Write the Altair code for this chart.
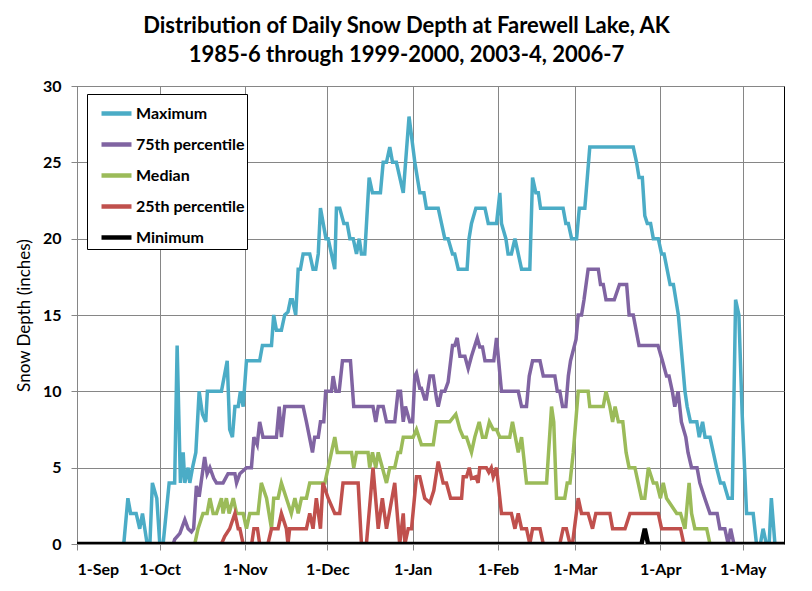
import altair as alt
import pandas as pd

SEASON_START = pd.Timestamp("2006-09-01")

# (day offset from 1-Sep, snow depth in inches)
MAXIMUM = [(0, 0), (17, 0), (18.5, 3), (19.5, 2), (21.5, 2), (22.8, 1), (23.8, 2), (25.5, 0), (26.5, 0),
           (27.4, 4), (29, 3), (30.1, 0), (31.3, 0), (33.5, 4), (35.5, 4), (36.4, 13), (37.6, 4), (38.6, 6),
           (39.2, 4), (40.4, 5), (41, 4), (42, 5), (43.2, 6), (44.4, 10), (45.6, 8.5), (46.8, 8), (47.4, 10),
           (52.5, 10), (54.6, 12), (55.5, 7.5), (56.5, 7), (57.4, 9), (58.6, 9), (59.4, 10), (60.4, 9),
           (61.6, 12), (66.4, 12), (67.4, 13), (70.7, 13), (71.5, 15), (72.5, 14), (74.3, 14), (75.5, 15),
           (76.7, 15.2), (77.6, 16), (78.3, 16), (79.5, 15), (80.4, 18), (81.2, 18), (82.2, 19), (84.6, 19),
           (85.8, 18), (86.8, 18), (87.7, 19), (88.5, 22), (90.5, 20), (91.3, 20), (93.7, 18), (94.3, 22),
           (95.5, 22), (97, 21), (98.2, 21), (99.2, 20), (100.4, 20), (101.6, 19), (102.6, 20), (103.4, 19),
           (104.6, 19), (106.2, 24), (107.4, 23), (110.3, 23), (111.3, 25), (112.5, 25), (113.7, 26),
           (114.7, 25), (116.1, 25), (118.6, 23), (120.7, 28), (122.8, 25), (124.6, 23), (126.1, 23),
           (127, 22), (131.3, 22), (132.5, 21), (133.7, 20), (134.9, 20), (136.5, 19), (137.3, 19),
           (138.6, 18), (141.8, 18), (142.5, 20), (143.4, 21), (145, 22), (148.3, 22), (149.5, 21),
           (152.5, 21), (153.7, 23), (154.3, 21), (155.9, 20), (156.7, 19), (157.9, 19), (159.2, 20),
           (160.4, 19), (161.6, 18), (164.6, 18), (165.6, 24), (166.8, 23), (167.7, 23), (168.5, 22),
           (176.7, 22), (177.7, 21), (178.6, 21), (179.8, 20), (181.6, 20), (182.6, 22), (184.6, 22),
           (186.4, 26), (202.2, 26), (203.4, 25), (204.3, 24), (205.5, 24), (206.4, 21.5), (207.3, 21),
           (208.5, 21), (209.5, 20), (211.3, 20), (212.5, 19), (213.4, 19), (215.6, 17), (216.8, 17),
           (218.6, 15), (221, 10), (221.8, 9), (223, 8), (225.3, 8), (226.2, 7), (227.4, 8), (228.3, 7),
           (230.1, 7), (232.5, 5), (233.9, 4), (235.1, 4), (236.7, 3), (238.2, 3), (239.4, 16), (240.6, 15),
           (241.8, 8.5), (243.4, 2), (245.8, 2), (247, 0), (248.4, 0), (249.4, 1), (250.6, 0), (251.6, 0),
           (252.4, 3), (253.7, 0), (257, 0)]

PCT75 = [(0, 0), (35, 0), (35.5, 0.3), (37.4, 0.7), (39.2, 1.6), (40.4, 1), (41.6, 0.8), (42.4, 1),
         (43.4, 3.8), (44.4, 3.1), (46.4, 5.7), (47.3, 4.6), (48.3, 5), (49.7, 4.3), (50.7, 4), (53.1, 4),
         (54.9, 4.6), (57.4, 4.6), (58, 4), (59.2, 4.6), (61.6, 5), (63.4, 5), (64.3, 7), (65.5, 6.5),
         (66.4, 8), (67.6, 7), (72.5, 7), (73.5, 9), (74.3, 7), (75.5, 9), (82.2, 9), (83.4, 8), (85.6, 6),
         (86.4, 7), (87.7, 7), (88.5, 8), (89.7, 8), (90.4, 10), (92.5, 10), (93.1, 11), (94.1, 10),
         (95.3, 10), (96.5, 12), (99.4, 12), (100.6, 9), (107.6, 9), (108.6, 8), (109.5, 9), (111.3, 9),
         (112.5, 8), (115.5, 8), (116.7, 10), (117.6, 10), (118.6, 8), (119.4, 9), (121, 8), (122, 8),
         (122.8, 11), (123.4, 11.2), (124.6, 10.2), (125.2, 10.2), (126.4, 9.5), (127, 9.5), (128.3, 11),
         (129.5, 11), (130.7, 9.5), (131.3, 9), (132.5, 10), (133.7, 10), (134.9, 10.6), (136.5, 13),
         (137.3, 13), (138.2, 13.5), (139.2, 12.3), (141, 12.3), (142.2, 11.5), (143.4, 12.3), (145.5, 13.5),
         (146.4, 12.9), (147.4, 12.9), (148.3, 12), (151.5, 12), (152.5, 13.5), (154.3, 10), (160.4, 10),
         (161.6, 9), (163.4, 9), (164.4, 11), (165.6, 12), (168.3, 12), (169.5, 11), (173.7, 11), (174.6, 10),
         (175.5, 10), (176.5, 9), (177.7, 9), (178.6, 11), (179.4, 12), (181.4, 13.4), (182.2, 15),
         (183.4, 15), (184.3, 16), (185.8, 18), (189.5, 18), (190.3, 17), (191.3, 17), (192.3, 16),
         (195.3, 16), (197.2, 17), (199.8, 17), (200.7, 15), (202.2, 15), (204.3, 13), (211.2, 13),
         (212.8, 12), (214.3, 11), (215.2, 11), (216.4, 10), (217.3, 9), (218.5, 10), (219.7, 8), (221.3, 7),
         (222.1, 6), (223.4, 5), (225.4, 5), (226.4, 4), (228.2, 3), (230.1, 2), (232.7, 2), (233.7, 1),
         (235.5, 1), (236.7, 0), (237.6, 1), (238.8, 0), (257, 0)]

MEDIAN = [(0, 0), (42.8, 0), (44, 1), (45.8, 2), (47.3, 2), (48.3, 3), (49.5, 2), (50.7, 2), (52.5, 3),
          (53.1, 2), (54.3, 3), (55.3, 2), (56.8, 3), (58, 2), (60.4, 2), (61.6, 1), (62.8, 2), (65.8, 2),
          (67, 4), (68.9, 3), (70.7, 1), (71.5, 3), (73.1, 3), (74.3, 4), (76.1, 3), (77.9, 2), (79.2, 3),
          (80.4, 2), (81.6, 3), (83.4, 3), (84.6, 4), (90.1, 4), (92.5, 6), (93.7, 7), (94.6, 6), (99.8, 6),
          (100.6, 5), (101.6, 6), (105.8, 6), (106.4, 5), (107.4, 6), (108.6, 5), (109.5, 6), (112.5, 4),
          (113.7, 5), (115.5, 5), (116.7, 6), (117.6, 6), (118.6, 7), (122.2, 7), (123.4, 7.5), (125.2, 6.5),
          (129.5, 6.5), (130.7, 8), (135.5, 8), (137.7, 8.5), (139.2, 7.5), (140.4, 7), (141.6, 7), (143.4, 6),
          (144.6, 7), (146.2, 8), (147.4, 7), (148.6, 7), (149.9, 8), (151.3, 7.5), (152.5, 7.5), (153.7, 7),
          (157.3, 7), (158.3, 8), (160.4, 6), (161.6, 7), (163.4, 4), (170.7, 4), (172.5, 9), (173.3, 8),
          (174.3, 3), (177.3, 3), (178.2, 4), (179.2, 4), (180.4, 6), (182.2, 10), (185.8, 10), (186.4, 9),
          (191.3, 9), (192.3, 10), (193.7, 9), (194.7, 8), (195.6, 9), (196.8, 8), (198.4, 8), (199.6, 6),
          (200.7, 5), (202.8, 5), (205.2, 3), (206.4, 3), (207.7, 5), (209.5, 4), (210.7, 4), (212.1, 3),
          (213.1, 4), (214.3, 3), (218, 2), (219.4, 2), (221, 1), (222.5, 4), (223.4, 2), (224.6, 1),
          (228.9, 1), (230.1, 0), (257, 0)]

PCT25 = [(0, 0), (52.5, 0), (53.7, 0.5), (55.5, 1), (57.4, 2), (58.6, 1), (59.2, 1), (60.4, 0), (63.5, 0),
         (64.3, 1), (65.6, 1), (66.4, 0), (69.4, 0), (70.7, 1), (73.1, 1), (74.3, 2), (76.1, 1), (76.7, 0),
         (77.3, 1), (83.4, 1), (84.6, 2), (85.8, 1), (87, 3), (88.5, 1), (89.4, 4), (91.3, 3), (93.7, 2),
         (95.5, 2), (96.7, 4), (102.2, 4), (103.4, 0), (105.2, 0), (107.6, 5), (109.5, 1), (111, 3),
         (112.5, 1), (115.5, 4), (117.3, 0), (118.6, 2), (119.2, 0), (120.4, 1), (121.6, 1), (123.4, 4.4),
         (124.6, 4.4), (126.4, 3), (128.3, 2.7), (129.7, 3.5), (131.3, 5.4), (133.1, 4), (134.3, 4),
         (135.8, 3), (139.8, 3), (140.4, 4.4), (141.6, 4.4), (142.6, 5), (143.4, 4.3), (145, 4.4), (145.8, 4),
         (146.4, 5), (148.8, 5), (149.7, 4.7), (150.6, 5), (151.3, 4.4), (152.5, 5), (154.3, 2), (157.9, 2),
         (159.2, 1), (160.4, 2), (161.6, 1), (163.4, 1), (164.6, 0), (165.6, 1), (168.3, 1), (169.5, 0),
         (175.5, 0), (176.7, 1), (177.9, 1), (179.2, 0), (180.1, 0), (182.2, 3), (183.4, 2), (185.8, 2),
         (187.4, 1), (188.6, 2), (193.7, 2), (194.7, 1), (199.2, 1), (201, 2), (211.3, 2), (212.5, 1),
         (219.4, 1), (220.6, 0), (257, 0)]

MINIMUM = [(0, 0), (205.2, 0), (206.4, 1), (207.6, 0), (257, 0)]

SERIES_NAMES = ["Maximum", "75th percentile", "Median", "25th percentile", "Minimum"]
SERIES_COLORS = ["#4BACC6", "#8064A2", "#9BBB59", "#C0504D", "#000000"]
SERIES_WIDTHS = [3.5, 3.5, 3.5, 3.5, 4.5]
SERIES_DATA = [MAXIMUM, PCT75, MEDIAN, PCT25, MINIMUM]

MONTH_TICKS = [(2006, 9), (2006, 10), (2006, 11), (2006, 12), (2007, 1), (2007, 2), (2007, 3), (2007, 4), (2007, 5)]

TITLE = ["Distribution of Daily Snow Depth at Farewell Lake, AK",
         "1985-6 through 1999-2000, 2003-4, 2006-7"]

rows = []
for name, pts in zip(SERIES_NAMES, SERIES_DATA):
    for d, v in pts:
        ts = SEASON_START + pd.Timedelta(days=d)
        rows.append({"series": name, "date": ts.strftime("%Y-%m-%dT%H:%M:%S"), "depth": v})
df = pd.DataFrame(rows)

FONT = "Lato"

x_axis = alt.Axis(
    values=[alt.DateTime(year=y, month=m, date=1) for y, m in MONTH_TICKS],
    format="%-d-%b", title=None, grid=True, gridColor="#868686", gridWidth=1,
    domain=False, ticks=True, tickColor="#868686", tickSize=6,
    labelFont=FONT, labelFontSize=16, labelFontWeight="bold", labelColor="black",
    labelPadding=11, labelOverlap=False,
)
y_axis = alt.Axis(
    values=[0, 5, 10, 15, 20, 25, 30], title="Snow Depth (inches)",
    grid=True, gridColor="#868686", gridWidth=1,
    domain=True, domainColor="#868686", tickColor="#868686", tickSize=6,
    labelFont=FONT, labelFontSize=16, labelFontWeight="bold", labelColor="black", labelPadding=10,
    titleFont=FONT, titleFontSize=17, titleFontWeight="normal", titleColor="black",
    titleAngle=270, titleX=-53, titleY=229, titleAlign="center", titleBaseline="middle",
)
legend = alt.Legend(
    orient="none", legendX=10, legendY=8, title=None,
    symbolType="stroke", symbolSize=900, symbolStrokeWidth=4.5, symbolOffset=10,
    labelFont=FONT, labelFontSize=16, labelFontWeight="bold", labelColor="black",
    strokeColor="black", fillColor="white", padding=2, rowPadding=4, labelOffset=2,
)
color_scale = alt.Scale(domain=SERIES_NAMES, range=SERIES_COLORS)
x_scale = alt.Scale(domain=[alt.DateTime(year=2006, month=9, date=1), alt.DateTime(year=2007, month=5, date=16)])
y_scale = alt.Scale(domain=[0, 30], nice=False)

base = alt.Chart(df)
layers = []
for name, w in zip(SERIES_NAMES, SERIES_WIDTHS):
    layers.append(
        base.transform_filter(alt.datum.series == name)
        .mark_line(strokeWidth=w, clip=True)
        .encode(
            x=alt.X("date:T", scale=x_scale, axis=x_axis),
            y=alt.Y("depth:Q", scale=y_scale, axis=y_axis),
            color=alt.Color("series:N", scale=color_scale, legend=legend),
        )
    )

chart = (
    alt.layer(*layers)
    .properties(
        width=707, height=458,
        title=alt.TitleParams(text=TITLE, font=FONT, fontSize=22, fontWeight="bold", color="black",
                              anchor="middle", dx=-24, offset=11, lineHeight=29),
        autosize=alt.AutoSizeParams(type="none"),
        padding={"left": 69, "top": 78, "right": 20, "bottom": 40},
        background="white",
    )
    .configure_view(stroke="black", strokeWidth=1)
)

chart.save("out.html", embed_options={"renderer": "svg", "actions": False})
